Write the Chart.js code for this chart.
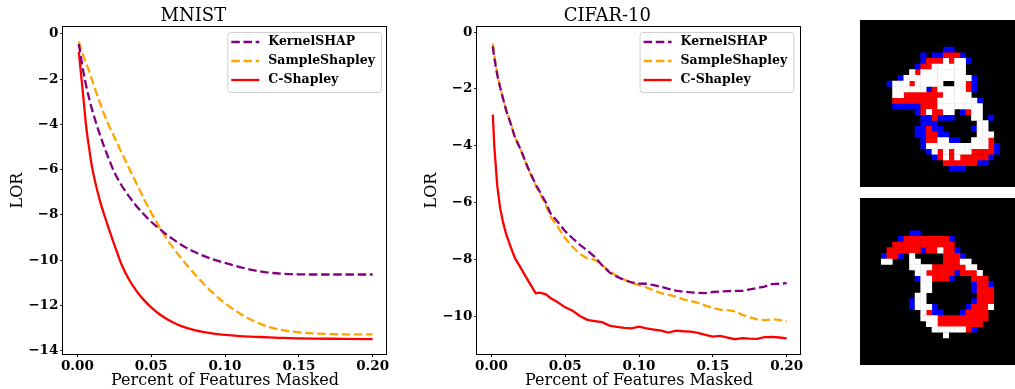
<!DOCTYPE html>
<html>
<head>
<meta charset="utf-8">
<title>LOR vs masked features</title>
<script src="https://cdn.jsdelivr.net/npm/chart.js@4.4.1/dist/chart.umd.min.js"></script>
<style>
    body { margin: 0; background: #fff; width: 1015px; height: 389px; position: relative; overflow: hidden; }
    canvas { position: absolute; display: block; }
    #digitA, #digitB { background: #000; }
</style>
</head>
<body>
<canvas id="mnistChart" width="400" height="389" style="left:0;top:0"></canvas>
<canvas id="cifarChart" width="400" height="389" style="left:414px;top:0"></canvas>
<canvas id="digitA" width="155" height="167" style="left:860px;top:20px"></canvas>
<canvas id="digitB" width="155" height="167" style="left:860px;top:198px"></canvas>
<script>
// Values
const xTicks = [0, 0.05, 0.10, 0.15, 0.20];
const mnistYTicks = [0, -2, -4, -6, -8, -10, -12, -14];
const cifarYTicks = [0, -2, -4, -6, -8, -10];

const mnistX = [0.001, 0.002, 0.004, 0.006, 0.008, 0.01, 0.015, 0.02, 0.025, 0.03, 0.035, 0.04, 0.045, 0.05,
    0.055, 0.06, 0.065, 0.07, 0.08, 0.09, 0.10, 0.11, 0.12, 0.13, 0.14, 0.15, 0.16, 0.18, 0.20];
const mnistKernel = [-0.45, -0.85, -1.65, -2.3, -2.85, -3.35, -4.4, -5.3, -6.1, -6.7, -7.18, -7.6, -7.97, -8.3,
    -8.58, -8.85, -9.08, -9.3, -9.65, -9.92, -10.12, -10.3, -10.45, -10.55, -10.6, -10.62, -10.63, -10.63, -10.63];
const mnistSample = [-0.35, -0.55, -0.95, -1.3, -1.65, -2.05, -3.0, -3.85, -4.55, -5.25, -5.93, -6.6, -7.27, -7.9,
    -8.47, -9.0, -9.46, -9.88, -10.65, -11.33, -11.9, -12.35, -12.7, -12.95, -13.1, -13.18, -13.23, -13.27, -13.27];
const mnistCShap = [-0.8, -1.45, -2.75, -4.1, -5.05, -5.9, -7.3, -8.35, -9.3, -10.2, -10.85, -11.35, -11.75, -12.08,
    -12.35, -12.57, -12.75, -12.9, -13.1, -13.22, -13.3, -13.35, -13.38, -13.41, -13.43, -13.45, -13.46, -13.47, -13.48];

const cifarX = [0.001, 0.002, 0.004, 0.006, 0.008, 0.01, 0.013, 0.016, 0.02, 0.025, 0.03, 0.033, 0.037, 0.04,
    0.045, 0.05, 0.055, 0.06, 0.065, 0.07, 0.075, 0.08, 0.085, 0.09, 0.095, 0.10, 0.105, 0.11, 0.115, 0.12,
    0.125, 0.13, 0.135, 0.14, 0.145, 0.15, 0.155, 0.16, 0.165, 0.17, 0.175, 0.18, 0.185, 0.19, 0.195, 0.20];
const cifarKernel = [-0.5, -0.9, -1.5, -1.95, -2.35, -2.75, -3.2, -3.7, -4.14, -4.8, -5.35, -5.63, -6.0, -6.37,
    -6.68, -7.0, -7.25, -7.48, -7.68, -7.9, -8.2, -8.45, -8.6, -8.72, -8.8, -8.84, -8.85, -8.9, -8.96, -9.03,
    -9.09, -9.13, -9.15, -9.17, -9.18, -9.14, -9.12, -9.11, -9.1, -9.1, -9.05, -9.0, -8.95, -8.86, -8.85, -8.83];
const cifarSample = [-0.4, -0.8, -1.45, -1.95, -2.35, -2.72, -3.2, -3.7, -4.15, -4.82, -5.4, -5.68, -6.1, -6.48,
    -6.85, -7.25, -7.55, -7.8, -7.96, -8.0, -8.2, -8.4, -8.58, -8.7, -8.82, -8.9, -8.98, -9.08, -9.18, -9.24,
    -9.3, -9.4, -9.46, -9.52, -9.62, -9.7, -9.76, -9.78, -9.82, -9.94, -10.03, -10.1, -10.13, -10.1, -10.12, -10.18];
const cifarCShap = [-2.9, -4.0, -5.4, -6.2, -6.7, -7.1, -7.54, -7.95, -8.3, -8.75, -9.18, -9.16, -9.22, -9.35,
    -9.5, -9.68, -9.8, -9.98, -10.12, -10.16, -10.2, -10.32, -10.37, -10.4, -10.42, -10.36, -10.42, -10.46, -10.5, -10.57,
    -10.5, -10.52, -10.53, -10.58, -10.65, -10.71, -10.68, -10.74, -10.8, -10.76, -10.78, -10.79, -10.73, -10.72, -10.74, -10.77];

// 28x28 attribution maps: w = white, r = red, b = blue, anything else black
const digitA = [
    '', '', '', '',
    '..............bb',
    '..........b.bbrrrb',
    '..........brrrwrwwb',
    '.........brrwwwwww',
    '........wrwwwwwwww',
    '......bwwwwwwwwwwwwb',
    '....bwwwrwwwww..wwrb',
    '.....wwwwwwbrwwwwwrb',
    '.....wwrrrrrrrwwwww',
    '.....rrrrrrrrwwwwwwwb',
    '.....bbbbbrrrwwwwwwww',
    '.........brwrrww.brww',
    '..........bbrbbb...ww.b',
    '..........bbb.......ww',
    '.........bbrbb.....bww',
    '.........bbrrbb.....www',
    '..........brrwwbb..wwwr',
    '..........bwwwwwwwwwwwrb',
    '...........bwrwrwwwrrrrb',
    '............brwrwrrrrrb',
    '..............rrrrrrbb',
    '...............bbb',
    '', ''
];
const digitB = [
    '', '', '', '', '',
    '........bb',
    '......brrrrrrrrb',
    '.....rrrrrrrrrrr',
    '....rrrrrrbrrwrrb',
    '...brrb.w.....rrrb',
    '...ww...ww....rrrww',
    '........wwwwrrrrrrww',
    '.........wwrrrrrbrrrw',
    '.........bwwrrrb...rrr',
    '..........ww.......brrb',
    '..........ww.......brrr',
    '.........ww.........rrr',
    '........bww........brrr',
    '........bwwwb.....brrrw',
    '..........wrbb...brrrr',
    '..........wwwrrrrrrrrr',
    '...........wwrrrrrrrr',
    '............wwwwwwrb',
    '..............w',
    '', '', '', ''
];

const serif = "'DejaVu Serif', 'Liberation Serif', serif";
const seriesStyle = [
    { label: 'KernelSHAP', color: '#800080', dash: [8.5, 3.7] },
    { label: 'SampleShapley', color: '#FFA500', dash: [8.5, 3.7] },
    { label: 'C-Shapley', color: '#FF0000', dash: [] }
];

function toPoints(xs, ys) {
    return xs.map((x, i) => ({ x: x, y: ys[i] }));
}

function minusLabel(v) {
    return v < 0 ? '\u2212' + Math.abs(v) : String(v);
}

// black frame around the plot area, like matplotlib spines
const framePlugin = {
    id: 'frame',
    afterDraw(chart) {
        const a = chart.chartArea;
        const ctx = chart.ctx;
        ctx.save();
        ctx.strokeStyle = '#000';
        ctx.lineWidth = 1;
        ctx.strokeRect(Math.round(a.left) - 0.5, Math.round(a.top) - 0.5,
            Math.round(a.right - a.left) + 1, Math.round(a.bottom - a.top) + 1);
        ctx.restore();
    }
};

// legend drawn inside the upper right corner of the plot area
const boxLegendPlugin = {
    id: 'boxLegend',
    afterDraw(chart, args, opts) {
        const a = chart.chartArea;
        const ctx = chart.ctx;
        const sets = chart.data.datasets;
        ctx.save();
        ctx.font = 'bold ' + opts.fontSize + 'px ' + serif;
        const textW = Math.max(...sets.map(d => ctx.measureText(d.label).width));
        const w = 41 + textW + 6;
        const h = 60;
        const left = a.right - opts.marginRight - w;
        const top = a.top + 5;

        ctx.beginPath();
        ctx.roundRect(left + 0.5, top + 0.5, w, h, 3);
        ctx.fillStyle = 'rgba(255,255,255,0.8)';
        ctx.fill();
        ctx.strokeStyle = '#d0d0d0';
        ctx.lineWidth = 1;
        ctx.stroke();

        sets.forEach((d, i) => {
            const y = top + 10 + i * 19;
            ctx.beginPath();
            ctx.setLineDash(d.borderDash || []);
            ctx.strokeStyle = d.borderColor;
            ctx.lineWidth = d.borderWidth;
            ctx.moveTo(left + 4, y);
            ctx.lineTo(left + 32, y);
            ctx.stroke();
            ctx.setLineDash([]);
            ctx.fillStyle = '#000';
            ctx.textBaseline = 'middle';
            ctx.fillText(d.label, left + 41, y);
        });
        ctx.restore();
    }
};

function drawLorChart(canvasId, title, xs, ysList, yTicks, yMin, yMax, legendMargin, smooth) {
    const tickFont = { family: serif, size: 13.5, weight: 'bold' };
    const datasets = seriesStyle.map((s, i) => ({
        label: s.label,
        data: toPoints(xs, ysList[i]),
        borderColor: s.color,
        borderDash: s.dash,
        borderWidth: 2.3,
        pointRadius: 0,
        fill: false,
        cubicInterpolationMode: smooth ? 'monotone' : 'default',
        tension: 0
    }));

    new Chart(document.getElementById(canvasId), {
        type: 'line',
        data: { datasets: datasets },
        options: {
            responsive: false,
            animation: false,
            devicePixelRatio: 1,
            events: [],
            layout: { padding: { left: 0, right: 13.3, top: 0, bottom: 0 } },
            plugins: {
                legend: { display: false },
                tooltip: { enabled: false },
                title: {
                    display: true,
                    text: title,
                    color: '#000',
                    font: { family: serif, size: 18, weight: 'normal', lineHeight: 1 },
                    padding: { top: 7, bottom: 2 }
                },
                boxLegend: { fontSize: 12.5, marginRight: legendMargin }
            },
            scales: {
                x: {
                    type: 'linear',
                    min: -0.0095,
                    max: 0.2095,
                    afterBuildTicks: s => { s.ticks = xTicks.map(v => ({ value: v })); },
                    afterFit: s => { s.height = 35; },
                    ticks: {
                        color: '#000',
                        font: tickFont,
                        padding: 1,
                        maxRotation: 0,
                        callback: v => v.toFixed(2)
                    },
                    grid: { drawOnChartArea: false, tickLength: 3, tickColor: '#000' },
                    border: { display: false },
                    title: {
                        display: true,
                        text: 'Percent of Features Masked',
                        color: '#000',
                        font: { family: serif, size: 16, weight: 'normal', lineHeight: 1 },
                        padding: { top: 0, bottom: 0 }
                    }
                },
                y: {
                    min: yMin,
                    max: yMax,
                    afterBuildTicks: s => { s.ticks = yTicks.map(v => ({ value: v })); },
                    afterFit: s => { s.width = 63.3; },
                    ticks: {
                        color: '#000',
                        font: tickFont,
                        padding: 2,
                        callback: minusLabel
                    },
                    grid: { drawOnChartArea: false, tickLength: 3, tickColor: '#000' },
                    border: { display: false },
                    title: {
                        display: true,
                        text: 'LOR',
                        color: '#000',
                        font: { family: serif, size: 16, weight: 'normal', lineHeight: 1 },
                        padding: { top: 10, bottom: 0 }
                    }
                }
            }
        },
        plugins: [framePlugin, boxLegendPlugin]
    });
}

function drawDigit(canvasId, rows) {
    const cells = { w: [], r: [], b: [] };
    rows.forEach((row, r) => {
        row.split('').forEach((ch, c) => {
            if (cells[ch]) cells[ch].push({ x: c, y: r });
        });
    });
    const colors = { w: '#FFFFFF', r: '#FF0000', b: '#0000FF' };
    const cellPx = 167 / 28;

    new Chart(document.getElementById(canvasId), {
        type: 'scatter',
        data: {
            datasets: Object.keys(cells).map(k => ({
                data: cells[k],
                backgroundColor: colors[k],
                borderWidth: 0,
                pointStyle: 'rect',
                pointRadius: cellPx / Math.SQRT2 + 0.05,
                pointHoverRadius: cellPx / Math.SQRT2 + 0.05
            }))
        },
        options: {
            responsive: false,
            animation: false,
            devicePixelRatio: 1,
            events: [],
            layout: { padding: 0 },
            plugins: { legend: { display: false }, tooltip: { enabled: false } },
            scales: {
                x: { type: 'linear', display: false, min: -0.5, max: -0.5 + 155 / cellPx },
                y: { type: 'linear', display: false, min: -0.5, max: 27.5, reverse: true }
            }
        }
    });
}

drawLorChart('mnistChart', 'MNIST', mnistX, [mnistKernel, mnistSample, mnistCShap], mnistYTicks, -14.14, 0.3, 5.7, true);
drawLorChart('cifarChart', 'CIFAR-10', cifarX, [cifarKernel, cifarSample, cifarCShap], cifarYTicks, -11.32, 0.18, 7.4, false);
drawDigit('digitA', digitA);
drawDigit('digitB', digitB);
</script>
</body>
</html>
